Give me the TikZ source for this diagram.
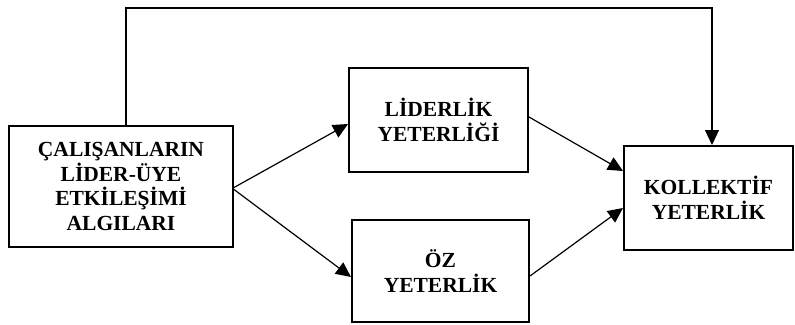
\documentclass[tikz,border=0pt]{standalone}
\usepackage{fontspec}
\setmainfont{Liberation Serif}
\usetikzlibrary{arrows.meta,calc}
\begin{document}
\begin{tikzpicture}[x=1pt,y=-1pt,
  box/.style={draw,line width=2pt,rectangle,align=center,inner sep=0pt,
    font=\fontsize{21.5}{24.5}\selectfont\bfseries},
  arr/.style={line width=1.2pt,-{Triangle[length=15pt,width=14pt]}}]
\useasboundingbox (0,0) rectangle (795,324);
\node[box,minimum width=224pt,minimum height=121pt] (L) at (121,186.5) {ÇALIŞANLARIN\\LİDER-ÜYE\\ETKİLEŞİMİ\\ALGILARI};
\node[box,minimum width=179pt,minimum height=104pt] (T) at (438.5,120) {LİDERLİK\\YETERLİĞİ};
\node[box,minimum width=177pt,minimum height=102pt] (B) at (440.5,271) {ÖZ\\YETERLİK};
\node[box,minimum width=169pt,minimum height=104pt] (R) at (708.5,198) {KOLLEKTİF\\YETERLİK};
\coordinate (c1) at (126,8);
\coordinate (c2) at (712,8);
\draw[arr] ([yshift=-1pt]L.east) -- ([yshift=-4pt]T.west);
\draw[arr] ([yshift=-3pt]L.east) -- ([yshift=-6pt]B.west);
\draw[arr] ([yshift=3pt]T.east) -- ([yshift=27pt]R.west);
\draw[arr] ([yshift=-5pt]B.east) -- ([yshift=-10pt]R.west);
\draw[arr] ([xshift=5pt]L.north) -- (c1) -- (c2) -- (c2 |- R.north);
\end{tikzpicture}
\end{document}
